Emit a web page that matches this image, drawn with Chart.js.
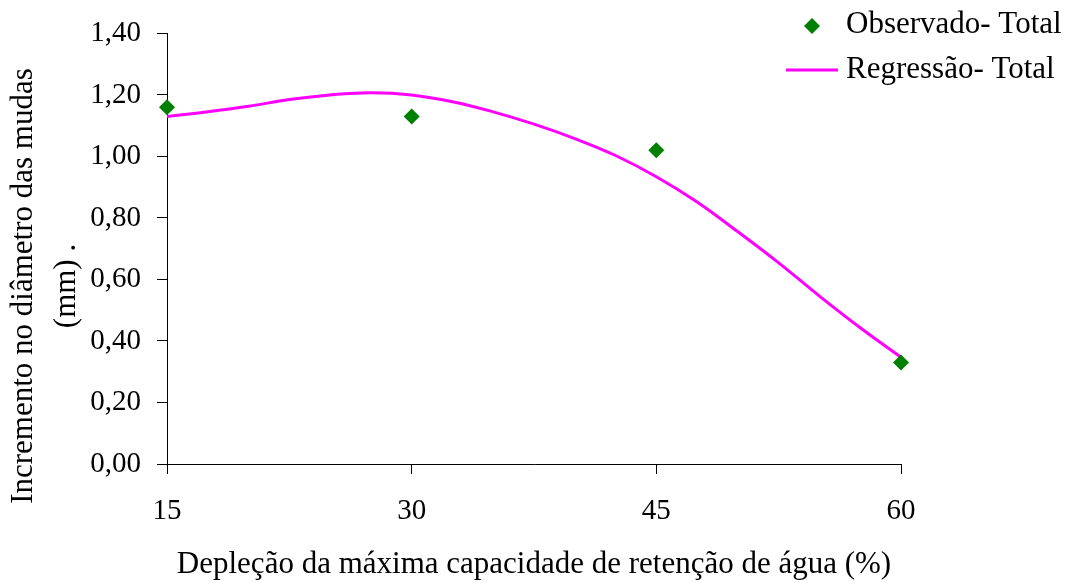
<!DOCTYPE html>
<html>
<head>
<meta charset="utf-8">
<script src="https://cdn.jsdelivr.net/npm/chart.js@4/dist/chart.umd.min.js"></script>
<style>
  html, body { margin: 0; padding: 0; background: #ffffff; }
  #wrap { width: 1071px; height: 583px; }
</style>
</head>
<body>
<div id="wrap"><canvas id="chart" width="1071" height="583"></canvas></div>
<script>
// Depleção (%) em que as mudas foram avaliadas
const depletion = [15, 30, 45, 60];
// Incremento observado no diâmetro (mm)
const observed = [1.16, 1.13, 1.02, 0.33];

// Curva de regressão, lida ao longo do intervalo
const regX = [15, 17.5, 20, 22.5, 25, 27.5, 30, 32.5, 35, 37.5, 40, 42.5, 45, 47.5, 50, 52.5, 55, 57.5, 60];
const regY = [1.13, 1.145, 1.163, 1.185, 1.200, 1.207, 1.200, 1.178, 1.145, 1.105, 1.058, 1.003, 0.934, 0.852, 0.755, 0.654, 0.546, 0.443, 0.347];

// Marcas dos eixos
const xTicks = [15, 30, 45, 60];
const yTicks = [0, 0.2, 0.4, 0.6, 0.8, 1.0, 1.2, 1.4];
const yTickLabels = ['0,00', '0,20', '0,40', '0,60', '0,80', '1,00', '1,20', '1,40'];

const xTitle = 'Depleção da máxima capacidade de retenção de água (%)';
const yTitle = ['Incremento no diâmetro das mudas', '(mm) .'];

const FONT = "'Liberation Serif', 'Times New Roman', serif";
const GREEN = '#008000';
const MAGENTA = '#FF00FF';

// Título do eixo Y em duas linhas, girado
const yTitlePlugin = {
  id: 'yTitle',
  afterDraw(chart) {
    const ctx = chart.ctx;
    ctx.save();
    ctx.font = '31px ' + FONT;
    ctx.fillStyle = '#000';
    ctx.textAlign = 'center';
    ctx.textBaseline = 'middle';
    ctx.translate(23.5, 286);
    ctx.rotate(-Math.PI / 2);
    yTitle.forEach((line, i) => ctx.fillText(line, 0, i * 43));
    ctx.restore();
  }
};

// Legenda no canto superior direito
const legendPlugin = {
  id: 'cornerLegend',
  afterDraw(chart) {
    const ctx = chart.ctx;
    const ds = chart.data.datasets;
    ctx.save();
    // marcador do observado
    ctx.fillStyle = ds[0].backgroundColor;
    ctx.beginPath();
    ctx.moveTo(812, 18); ctx.lineTo(820, 26); ctx.lineTo(812, 34); ctx.lineTo(804, 26);
    ctx.closePath(); ctx.fill();
    // traço da regressão
    ctx.strokeStyle = ds[1].borderColor;
    ctx.lineWidth = 3;
    ctx.beginPath(); ctx.moveTo(786, 70); ctx.lineTo(838, 70); ctx.stroke();
    // rótulos
    ctx.font = '31px ' + FONT;
    ctx.fillStyle = '#000';
    ctx.textAlign = 'left';
    ctx.textBaseline = 'middle';
    ctx.fillText(ds[0].label, 846, 25);
    ctx.fillText(ds[1].label, 846, 70);
    ctx.restore();
  }
};

new Chart(document.getElementById('chart'), {
  type: 'scatter',
  data: {
    datasets: [
      {
        label: 'Observado- Total',
        data: depletion.map((x, i) => ({ x, y: observed[i] })),
        pointStyle: 'rectRot',
        pointRadius: 8,
        pointHoverRadius: 8,
        backgroundColor: GREEN,
        borderColor: GREEN,
        borderWidth: 0,
        showLine: false,
        clip: false,
        order: 1
      },
      {
        label: 'Regressão- Total',
        type: 'line',
        data: regX.map((x, i) => ({ x, y: regY[i] })),
        borderColor: MAGENTA,
        backgroundColor: MAGENTA,
        borderWidth: 3,
        pointRadius: 0,
        tension: 0.4,
        fill: false,
        clip: false,
        order: 2
      }
    ]
  },
  options: {
    responsive: false,
    animation: false,
    events: [],
    layout: { padding: { top: 28, right: 170, left: 0, bottom: 0 } },
    plugins: { legend: { display: false }, tooltip: { enabled: false } },
    scales: {
      x: {
        type: 'linear',
        min: 15,
        max: 60,
        afterBuildTicks: s => { s.ticks = xTicks.map(v => ({ value: v })); },
        afterFit: s => { s.height = 119; },
        ticks: { color: '#000', font: { family: FONT, size: 29 }, padding: 20, maxRotation: 0 },
        grid: { drawOnChartArea: false, drawTicks: true, tickLength: 10, color: '#000', lineWidth: 1 },
        border: { display: true, color: '#000', width: 1 },
        title: {
          display: true,
          text: xTitle,
          color: '#000',
          font: { family: FONT, size: 31, lineHeight: 1.2 },
          padding: { top: 0, bottom: 0 }
        }
      },
      y: {
        min: 0,
        max: 1.4,
        afterBuildTicks: s => { s.ticks = yTicks.map(v => ({ value: v })); },
        afterFit: s => { s.width = 167; },
        ticks: {
          color: '#000',
          font: { family: FONT, size: 29 },
          padding: 16,
          callback: (v, i) => yTickLabels[i]
        },
        grid: { drawOnChartArea: false, drawTicks: true, tickLength: 10, color: '#000', lineWidth: 1 },
        border: { display: true, color: '#000', width: 1 }
      }
    }
  },
  plugins: [yTitlePlugin, legendPlugin]
});
</script>
</body>
</html>
